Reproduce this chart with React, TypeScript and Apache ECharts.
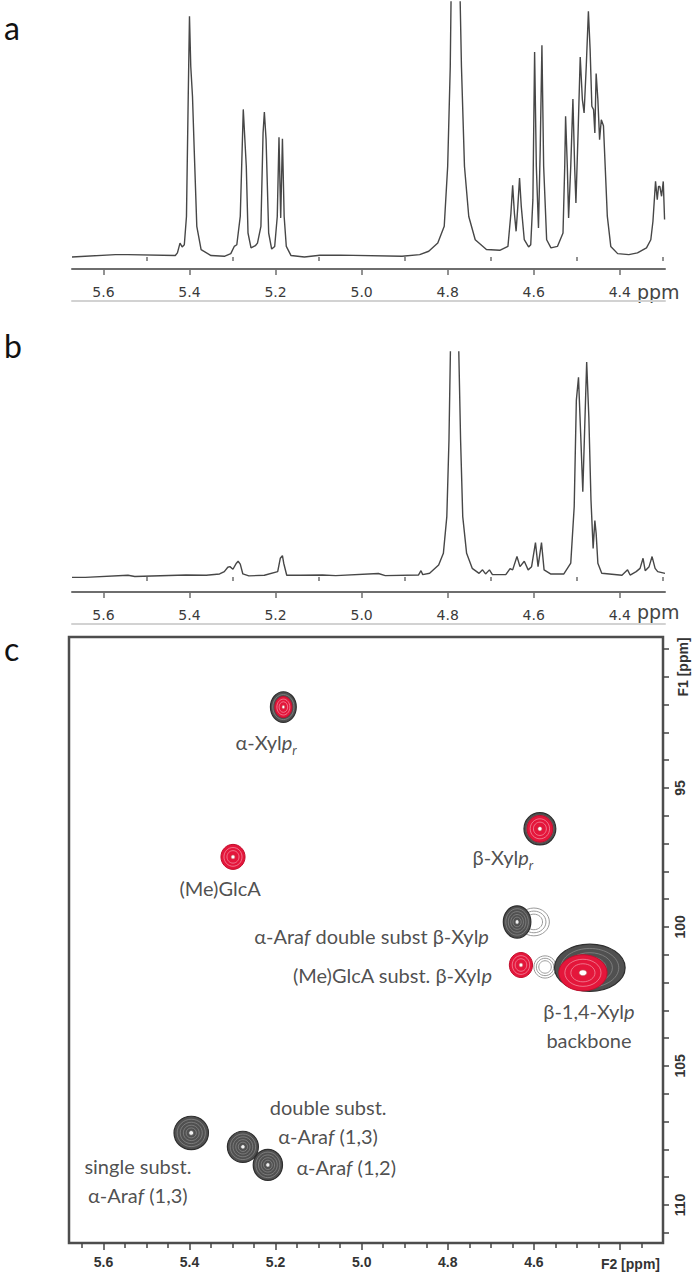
import React, { useEffect, useRef } from 'react';
import * as echarts from 'echarts';

// ---------- 1D spectrum (a): [ppm, relative intensity] ----------
const spectrumA: [number, number][] = [
  [5.673, 0], [5.572, 1], [5.543, 1], [5.433, 0.6], [5.428, 1.7], [5.422, 5.8], [5.417, 4.2], [5.412, 5.1],
  [5.407, 16.9], [5.403, 65.6], [5.400, 100.3], [5.397, 79.4], [5.393, 66.9], [5.389, 44.7], [5.383, 12.8],
  [5.373, 3.1], [5.350, 0.6], [5.319, 0.3], [5.304, 1.4], [5.296, 4.4], [5.290, 5.1], [5.282, 16.9],
  [5.275, 61.5], [5.268, 37.8], [5.264, 10], [5.257, 3.8], [5.247, 4.7], [5.242, 5.8],
  [5.234, 12.8], [5.229, 51.7], [5.226, 60.4], [5.222, 48.9], [5.216, 10], [5.209, 3.3], [5.202, 4.4],
  [5.196, 16.9], [5.192, 49.9], [5.188, 16.3], [5.184, 49.3], [5.180, 16.9], [5.175, 4.4], [5.164, 0.6],
  [5.133, 0], [5.097, 0.7], [5.049, 0.8], [4.906, 0.3], [4.865, 1], [4.844, 2.4], [4.823, 5.8],
  [4.808, 12.8], [4.800, 37.8], [4.794, 79.4], [4.791, 125], [4.773, 125], [4.768, 79.4], [4.761, 37.8],
  [4.751, 16.9], [4.736, 7.2], [4.710, 3.1], [4.679, 2.8], [4.660, 4.4], [4.653, 18.3], [4.649, 29.9],
  [4.645, 18.3], [4.641, 10.7], [4.637, 21.1], [4.633, 32.9], [4.629, 21.1], [4.622, 7.2], [4.612, 4.2],
  [4.607, 5.1], [4.602, 23.9], [4.598, 85.4], [4.594, 37.8], [4.589, 12.1], [4.585, 44.7], [4.581, 88.2],
  [4.577, 37.8], [4.570, 7.2], [4.560, 3.8], [4.545, 4.4], [4.532, 10], [4.528, 37.8], [4.526, 58.6],
  [4.522, 37.8], [4.519, 16.3], [4.514, 37.8], [4.509, 65.8], [4.505, 37.8], [4.502, 22.5], [4.497, 51.7],
  [4.492, 83.3], [4.487, 65.6], [4.483, 60], [4.478, 79.4], [4.473, 102.4], [4.469, 86.4], [4.465, 62.8],
  [4.461, 61.4], [4.458, 51.7], [4.455, 76.4], [4.451, 65.6], [4.447, 48.9], [4.443, 57.2], [4.438, 54.7],
  [4.434, 37.8], [4.429, 16.9], [4.421, 4.4], [4.405, 1.4], [4.379, 1], [4.359, 1.7], [4.338, 3.8],
  [4.328, 7.2], [4.323, 14.9], [4.317, 31.5], [4.313, 23.9], [4.310, 29.4], [4.307, 29.4], [4.303, 25.3],
  [4.299, 31.5], [4.296, 15.6],
];

// ---------- 1D spectrum (b): [ppm, relative intensity] ----------
const spectrumB: [number, number][] = [
  [5.673, -0.2], [5.642, -0.2], [5.543, 0.8], [5.527, 0.2], [5.408, 0.9], [5.361, 0.8], [5.330, 1.4],
  [5.319, 2.5], [5.311, 4.5], [5.306, 4.8], [5.299, 3.6], [5.291, 6.4], [5.287, 7.3], [5.282, 6.0],
  [5.276, 1.4], [5.262, 0.5], [5.226, 0.8], [5.195, 2.5], [5.189, 8.7], [5.184, 9.9], [5.181, 6.4],
  [5.174, 0.8], [5.143, 0.8], [5.091, 0.9], [5.060, 0.6], [4.961, 1.6], [4.945, 0.6], [4.868, 0.9],
  [4.862, 2.9], [4.858, 1.1], [4.842, 1.7], [4.821, 5.6], [4.810, 11], [4.802, 28.1], [4.797, 63.7],
  [4.793, 113], [4.7915, 160], [4.7765, 160], [4.775, 113], [4.770, 63.7], [4.765, 28.1], [4.756, 11],
  [4.743, 4.0], [4.727, 1.7], [4.719, 3.3], [4.712, 1.4], [4.703, 3.3], [4.696, 1.1], [4.665, 1.1],
  [4.655, 3.9], [4.649, 3.3], [4.639, 9.5], [4.632, 4.8], [4.622, 7.3], [4.613, 3.3], [4.605, 4.8],
  [4.596, 16.0], [4.590, 4.8], [4.582, 16.0], [4.576, 3.3], [4.561, 1.4], [4.530, 1.4], [4.514, 6.4],
  [4.506, 32.7], [4.501, 82.3], [4.496, 92.9], [4.491, 66.8], [4.486, 39.7], [4.482, 66.8], [4.477, 100],
  [4.472, 74.6], [4.467, 35.8], [4.462, 13.3], [4.458, 26.2], [4.455, 20.3], [4.451, 6.4], [4.442, 1.7],
  [4.395, 0.8], [4.382, 3.3], [4.376, 0.9], [4.362, 2.5], [4.353, 4.0], [4.346, 8.7], [4.341, 2.9],
  [4.332, 4.8], [4.325, 9.5], [4.318, 4.0], [4.312, 2.5], [4.295, 1.7],
];

// ---------- axis ticks ----------
const ppmMajorTicks = [5.6, 5.4, 5.2, 5.0, 4.8, 4.6, 4.4];
const ppmMinorTicks1D = [5.5, 5.3, 5.1, 4.9, 4.7, 4.5, 4.3];
const f2LabelValues = [5.6, 5.4, 5.2, 5.0, 4.8, 4.6];
const f2MinorTicks = [5.65, 5.55, 5.5, 5.45, 5.35, 5.3, 5.25, 5.15, 5.1, 5.05, 4.95, 4.9, 4.85, 4.75, 4.7, 4.65, 4.55, 4.5, 4.45, 4.35];
const f1Ticks = [90, 91, 92, 93, 94, 95, 96, 97, 98, 99, 100, 101, 102, 103, 104, 105, 106, 107, 108, 109, 110, 111];
const f1LabelValues = [95, 100, 105, 110];

// ---------- 2D HSQC cross peaks: [1H ppm, 13C ppm, half-width 1H, half-width 13C] ----------
const darkPeaks: number[][] = [
  [5.182, 92.09, 0.030, 0.55],   // α-Xylp,r
  [4.586, 96.47, 0.037, 0.58],   // β-Xylp,r
  [4.639, 99.82, 0.032, 0.58],   // α-Araf double subst β-Xylp
  [4.470, 101.47, 0.082, 0.85],  // β-1,4-Xylp backbone
  [5.396, 107.41, 0.040, 0.60],  // single subst α-Araf (1,3)
  [5.276, 107.91, 0.036, 0.56],  // double subst α-Araf (1,3)
  [5.218, 108.56, 0.034, 0.56],  // α-Araf (1,2)
];
const redPeaks: number[][] = [
  [5.182, 92.09, 0.020, 0.38],
  [4.586, 96.47, 0.030, 0.48],
  [5.299, 97.48, 0.028, 0.45],   // (Me)GlcA
  [4.630, 101.37, 0.027, 0.45],  // (Me)GlcA subst β-Xylp
  [4.486, 101.65, 0.056, 0.65],
];
const faintPeaks: number[][] = [
  [4.600, 99.82, 0.036, 0.50],
  [4.574, 101.44, 0.026, 0.40],
];

// ---------- annotations: [1H ppm, 13C ppm] and text ----------
const annotH = [5.222, 4.672, 5.329, 4.977, 4.929, 4.472, 5.078, 5.036, 5.520];
const annotC = [93.35, 97.48, 98.6, 100.32, 101.73, 103.56, 107.01, 108.63, 109.12];
const annotText = [
  'α-Xyl{i|p}{sub|r}',
  'β-Xyl{i|p}{sub|r}',
  '(Me)GlcA',
  'α-Ara{i|f} double subst β-Xyl{i|p}',
  '(Me)GlcA subst. β-Xyl{i|p}',
  'β-1,4-Xyl{i|p}\nbackbone',
  'double subst.\nα-Ara{i|f} (1,3)',
  'α-Ara{i|f} (1,2)',
  'single subst.\nα-Ara{i|f} (1,3)',
];

function contourRenderer(kind: 'dark' | 'red' | 'faint') {
  return (params: any, api: any) => {
    const h = api.value(0);
    const c = api.value(1);
    const p = api.coord([h, c]);
    const s = api.size([api.value(2) * 2, api.value(3) * 2], [h, c]);
    const rx = s[0] / 2;
    const ry = s[1] / 2;
    const children: any[] = [];
    const ell = (k: number, style: any) => ({
      type: 'ellipse',
      shape: { cx: p[0], cy: p[1], rx: rx * k, ry: ry * k },
      style,
    });
    if (kind === 'dark') {
      children.push(ell(1, { fill: '#505050', stroke: '#2e2e2e', lineWidth: 1.2 }));
      [0.82, 0.64, 0.46, 0.3].forEach((k) =>
        children.push(ell(k, { fill: 'none', stroke: '#8e8e8e', lineWidth: 0.7 }))
      );
      children.push(ell(0.14, { fill: '#f2f2f2', stroke: '#555', lineWidth: 0.8 }));
    } else if (kind === 'red') {
      children.push(ell(1, { fill: '#e4163b', stroke: '#c20f2d', lineWidth: 1 }));
      [0.75, 0.5].forEach((k) =>
        children.push(ell(k, { fill: 'none', stroke: '#f39aaa', lineWidth: 0.7 }))
      );
      children.push(ell(0.16, { fill: '#ffffff', stroke: '#b55', lineWidth: 0.6 }));
    } else {
      [1, 0.78, 0.56].forEach((k) =>
        children.push(ell(k, { fill: '#ffffff', stroke: '#9a9a9a', lineWidth: 1 }))
      );
    }
    return { type: 'group', children };
  };
}

export default function App() {
  const ref = useRef<HTMLDivElement>(null);

  useEffect(() => {
    document.body.style.margin = '0';
    if (!ref.current) return;
    const chart = echarts.init(ref.current, undefined, { renderer: 'svg' });

    const axisGrey = '#6e6e6e';
    const tickLabel1D = {
      fontFamily: 'DejaVu Sans',
      fontSize: 14,
      color: '#3a3a3a',
    };

    const oneDAxes = (gridIndex: number, min: number, max: number) => [
      {
        type: 'value', gridIndex, min, max, inverse: true, position: 'bottom',
        axisLine: { show: true, onZero: false, lineStyle: { color: axisGrey, width: 2 } },
        axisTick: { show: true, customValues: ppmMajorTicks, length: 6, lineStyle: { color: axisGrey, width: 1.5 } },
        axisLabel: { show: true, customValues: ppmMajorTicks, formatter: (v: number) => v.toFixed(1), margin: 16, ...tickLabel1D },
        splitLine: { show: false },
      },
      {
        type: 'value', gridIndex, min, max, inverse: true, position: 'bottom',
        axisLine: { show: false },
        axisTick: { show: true, customValues: ppmMinorTicks1D, length: 4, lineStyle: { color: axisGrey, width: 1.5 } },
        axisLabel: { show: false },
        splitLine: { show: false },
      },
      {
        type: 'value', gridIndex, min, max, inverse: true, position: 'bottom', offset: 32,
        axisLine: { show: true, onZero: false, lineStyle: { color: '#d2d2d2', width: 2 } },
        axisTick: { show: false },
        axisLabel: { show: false },
        splitLine: { show: false },
      },
    ];

    const option: any = {
      animation: false,
      grid: [
        { left: 72, right: 35, top: 2, height: 267 },
        { left: 72, right: 35, top: 352, height: 240 },
        { left: 69, right: 37, top: 637, height: 606, show: true, borderColor: '#4d4d4d', borderWidth: 2.5, backgroundColor: 'transparent' },
      ],
      xAxis: [
        ...oneDAxes(0, 4.295, 5.673),
        ...oneDAxes(1, 4.295, 5.673),
        {
          type: 'value', gridIndex: 2, min: 4.3, max: 5.68, inverse: true, position: 'bottom',
          axisLine: { show: false },
          axisTick: { show: true, customValues: ppmMajorTicks, length: 7, lineStyle: { color: '#444', width: 1.5 } },
          axisLabel: {
            show: true, customValues: f2LabelValues, formatter: (v: number) => v.toFixed(1), margin: 12,
            fontFamily: 'Liberation Sans', fontWeight: 'bold', fontSize: 14, color: '#333',
          },
          splitLine: { show: false },
        },
        {
          type: 'value', gridIndex: 2, min: 4.3, max: 5.68, inverse: true, position: 'bottom',
          axisLine: { show: false },
          axisTick: { show: true, customValues: f2MinorTicks, length: 5, lineStyle: { color: '#444', width: 1.5 } },
          axisLabel: { show: false },
          splitLine: { show: false },
        },
      ],
      yAxis: [
        { type: 'value', gridIndex: 0, min: -5, max: 106.25, show: false },
        { type: 'value', gridIndex: 1, min: -7, max: 104.7, show: false },
        {
          type: 'value', gridIndex: 2, min: 89.57, max: 111.37, inverse: true, position: 'right',
          axisLine: { show: false },
          axisTick: { show: true, customValues: f1Ticks, length: 6, lineStyle: { color: '#444', width: 1.5 } },
          axisLabel: {
            show: true, customValues: f1LabelValues, rotate: 90, margin: 10,
            fontFamily: 'Liberation Sans', fontWeight: 'bold', fontSize: 14, color: '#333',
          },
          splitLine: { show: false },
        },
      ],
      series: [
        {
          type: 'line', xAxisIndex: 0, yAxisIndex: 0, data: spectrumA, showSymbol: false, silent: true, clip: true,
          lineStyle: { color: '#474747', width: 1.4 },
        },
        {
          type: 'line', xAxisIndex: 3, yAxisIndex: 1, data: spectrumB, showSymbol: false, silent: true, clip: true,
          lineStyle: { color: '#474747', width: 1.4 },
        },
        {
          type: 'custom', xAxisIndex: 6, yAxisIndex: 2, data: faintPeaks, renderItem: contourRenderer('faint'), silent: true,
        },
        {
          type: 'custom', xAxisIndex: 6, yAxisIndex: 2, data: darkPeaks, renderItem: contourRenderer('dark'), silent: true,
        },
        {
          type: 'custom', xAxisIndex: 6, yAxisIndex: 2, data: redPeaks, renderItem: contourRenderer('red'), silent: true,
        },
        {
          type: 'scatter', xAxisIndex: 6, yAxisIndex: 2, symbolSize: 0, silent: true,
          data: annotH.map((h, i) => ({
            value: [h, annotC[i]],
            label: { formatter: annotText[i] },
          })),
          label: {
            show: true, position: 'inside', align: 'center', verticalAlign: 'middle',
            fontFamily: 'Lato', fontSize: 20, color: '#222', lineHeight: 29,
            rich: {
              i: { fontFamily: 'Lato', fontSize: 20, fontStyle: 'italic', color: '#222' },
              sub: { fontFamily: 'Lato', fontSize: 13, fontStyle: 'italic', color: '#222', verticalAlign: 'bottom', padding: [7, 0, 0, 0] },
            },
          },
        },
      ],
      graphic: [
        { type: 'text', x: 4, y: 27, style: { text: 'a', fontFamily: 'Lato', fontSize: 32, fill: '#111', verticalAlign: 'middle' } },
        { type: 'text', x: 4, y: 345, style: { text: 'b', fontFamily: 'Lato', fontSize: 32, fill: '#111', verticalAlign: 'middle' } },
        { type: 'text', x: 4, y: 648, style: { text: 'c', fontFamily: 'Lato', fontSize: 32, fill: '#111', verticalAlign: 'middle' } },
        { type: 'text', x: 637, y: 292, style: { text: 'ppm', fontFamily: 'DejaVu Sans', fontSize: 19, fill: '#444', verticalAlign: 'middle' } },
        { type: 'text', x: 637, y: 612, style: { text: 'ppm', fontFamily: 'DejaVu Sans', fontSize: 19, fill: '#444', verticalAlign: 'middle' } },
        { type: 'text', x: 660, y: 1264, style: { text: 'F2 [ppm]', fontFamily: 'Liberation Sans', fontWeight: 'bold', fontSize: 14, fill: '#333', align: 'right', verticalAlign: 'middle' } },
        { type: 'text', x: 683, y: 667, rotation: Math.PI / 2, style: { text: 'F1 [ppm]', fontFamily: 'Liberation Sans', fontWeight: 'bold', fontSize: 14, fill: '#333', align: 'center', verticalAlign: 'middle' } },
      ],
    };

    chart.setOption(option);
    return () => chart.dispose();
  }, []);

  return <div ref={ref} style={{ width: 700, height: 1278 }} />;
}
